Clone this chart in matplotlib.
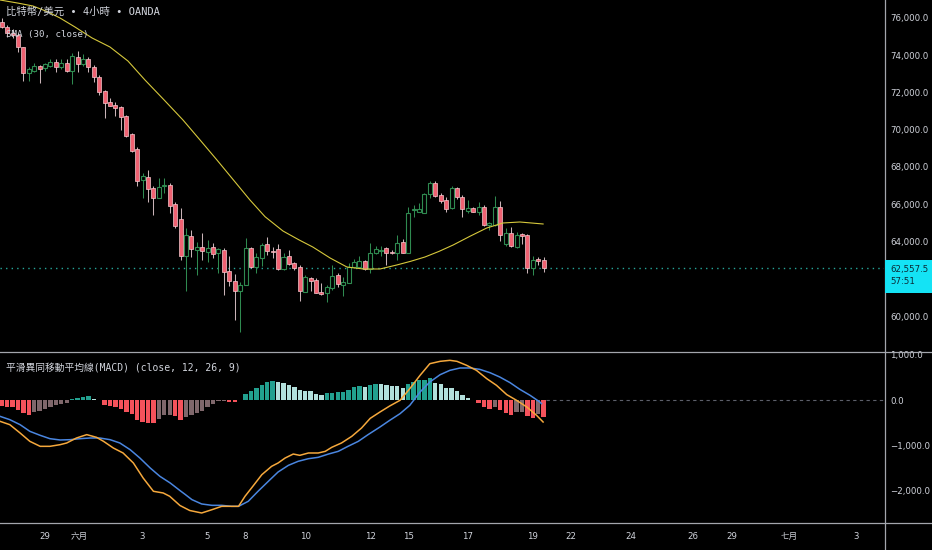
import matplotlib
matplotlib.use("Agg")
import matplotlib.pyplot as plt
from matplotlib.patches import Rectangle
from matplotlib.lines import Line2D
from matplotlib import font_manager

# ---------------- data ----------------
opens = [75800, 75530, 75180, 75090, 74430, 73030, 73170, 73420, 73300, 73420,
         73620, 73350, 73570, 73170, 73920, 73530, 73780, 73385, 72815, 72100,
         71470, 71330, 71240, 70740, 69760, 68970, 67300, 67480, 66860, 66350,
         66980, 67030, 66015, 65190, 63240, 64310, 63540, 63685, 63450, 63685,
         63370, 63540, 62430, 61895, 61360, 61665, 63630, 62615, 63100, 63865,
         63505, 63600, 62510, 63220, 62865, 62650, 61305, 62025, 61930, 61305,
         61215, 61490, 62200, 61665, 61790, 62615, 62650, 62970, 62505, 63365,
         63510, 63630, 63440, 63400, 63990, 63400, 65690, 65600, 65545, 66550,
         67160, 66500, 66230, 65780, 66860, 66405, 65655, 65780, 65600, 65870,
         64885, 64885, 65870, 63865, 64475, 63720, 64400, 64350, 62560, 63045,
         63010]
highs = [76000, 75600, 75400, 75200, 74440, 73385, 73570, 73480, 73600, 73780,
         73780, 73780, 73780, 74140, 74245, 74070, 73920, 73480, 72940, 72130,
         71690, 71505, 71275, 70790, 69810, 69090, 67695, 67840, 66980, 67395,
         67395, 67160, 66140, 65780, 64710, 64600, 63990, 64475, 64080, 63900,
         63630, 63630, 63220, 62255, 61840, 64170, 63685, 63365, 63935, 64225,
         63685, 63865, 63400, 63545, 62920, 62740, 62200, 62110, 62025, 61755,
         61665, 62740, 62325, 62110, 62830, 63045, 63220, 63010, 63900, 63760,
         63760, 63685, 63545, 64350, 64120, 65870, 65960, 66050, 66620, 67265,
         67265, 66590, 66375, 66980, 66910, 66500, 66230, 65835, 66140, 65960,
         65065, 66445, 66190, 64710, 64765, 64530, 64475, 64400, 63220, 63150,
         63150]
lows = [75460, 75000, 74900, 74190, 72630, 72630, 73115, 72500, 73170, 73350,
        73115, 73245, 73115, 72460, 73115, 73420, 73115, 72580, 71865, 70615,
        71275, 70740, 69990, 69630, 68820, 66980, 66320, 66140, 65425, 66320,
        66590, 65515, 64710, 63010, 61360, 63185, 62200, 63010, 62920, 63100,
        62290, 61130, 61610, 59785, 59160, 61665, 62560, 62325, 62685, 63275,
        63100, 62470, 62470, 62740, 62470, 60820, 61305, 61360, 61215, 61130,
        60770, 61395, 61575, 61075, 61755, 62560, 62560, 62470, 62290, 63330,
        63220, 62740, 63330, 63010, 63365, 63365, 65330, 65600, 65545, 66320,
        66405, 66085, 65600, 65730, 66265, 65330, 65545, 65600, 65425, 64830,
        64610, 64830, 64040, 63760, 63720, 63630, 63865, 62290, 62200, 62740,
        62380]
closes = [75530, 75180, 75100, 74460, 73030, 73245, 73420, 73260, 73515, 73650,
          73385, 73600, 73170, 73960, 73530, 73780, 73385, 72815, 72040, 71420,
          71290, 71150, 70670, 69665, 68880, 67265, 67530, 66800, 66350, 66940,
          67030, 65920, 64850, 63240, 64350, 63580, 63720, 63490, 63630, 63330,
          63580, 62380, 61895, 61360, 61665, 63630, 62615, 63150, 63810, 63505,
          63435, 62510, 63185, 62790, 62595, 61360, 62080, 61895, 61250, 61180,
          61570, 62150, 61715, 61840, 62650, 62920, 62970, 62505, 63365, 63580,
          63545, 63365, 63400, 63935, 63400, 65545, 65745, 65730, 66550, 67125,
          66445, 66190, 65730, 66860, 66375, 65730, 65780, 65600, 65870, 64885,
          65010, 65870, 64350, 64475, 63760, 64350, 64295, 62560, 63010, 62970,
          62557.5]

# SMA(30): bar index -> value
sma_x = [-0.31, 3.0, 5.78, 8.5, 10.76, 13.52, 16.66, 19.98, 23.3, 26.44,
         30.0, 33.45, 36.6, 39.72, 42.8, 45.81, 48.6, 51.9, 54.9, 57.4,
         60.6, 63.7, 66.7, 69.8, 72.9, 75.5, 78.1, 80.7, 83.3, 86.4,
         89.5, 92.5, 95.6, 99.9]
sma_v = [76966, 76800, 76644, 76330, 76000, 75517, 74930, 74443, 73690, 72671,
         71590, 70524, 69450, 68376, 67290, 66228, 65330, 64564, 64080, 63705,
         63114, 62631, 62524, 62524, 62739, 62940, 63168, 63470, 63812, 64280,
         64725, 64994, 65047, 64940]

# MACD histogram, one per bar
hist = [-140, -145, -150, -213, -290, -328, -265, -245, -205, -155,
        -115, -88, -62, 25, 52, 75, 78, 32, -8, -105,
        -122, -145, -200, -255, -320, -440, -478, -498, -505, -420,
        -335, -330, -345, -440, -365, -330, -285, -248, -165, -88,
        -25, -12, -35, -42, -5, 132, 206, 265, 339, 397,
        427, 390, 375, 339, 280, 221, 195, 188, 132, 103,
        160, 163, 166, 170, 228, 280, 302, 298, 340, 353,
        346, 324, 309, 300, 265, 353, 397, 434, 445, 486,
        383, 361, 270, 265, 191, 103, 44, -10, -59, -155,
        -191, -155, -228, -280, -324, -268, -262, -353, -390, -316,
        -375]

# MACD line (orange)
macd_x = [-0.3, 1.5, 3.4, 5.2, 7.1, 8.9, 10.8, 12.0, 13.8, 15.7,
          17.5, 18.8, 20.6, 22.4, 24.3, 26.1, 28.0, 29.8, 31.0, 32.9,
          34.7, 36.9, 38.8, 40.6, 42.4, 43.7, 44.9, 46.1, 48.0, 49.8,
          51.0, 52.3, 53.8, 55.0, 56.6, 58.4, 59.7, 60.9, 62.7, 64.6,
          66.4, 68.0, 69.8, 71.6, 73.5, 75.3, 77.2, 79.0, 80.9, 82.7,
          84.0, 85.8, 87.6, 89.5, 91.3, 93.2, 95.0, 96.9, 98.7, 99.9]
macd_v = [-471, -545, -729, -913, -1023, -1023, -986, -949, -839, -765,
          -824, -913, -1060, -1170, -1391, -1722, -2016, -2053, -2126, -2330,
          -2440, -2495, -2422, -2348, -2348, -2348, -2126, -1943, -1649, -1465,
          -1391, -1281, -1193, -1222, -1170, -1170, -1134, -1045, -949, -802,
          -618, -405, -265, -132, -7, 250, 545, 802, 854, 876,
          854, 765, 655, 471, 324, 118, -7, -155, -339, -486]

# Signal line (blue)
sig_x = [-0.3, 1.5, 3.4, 5.2, 7.1, 8.9, 10.8, 12.6, 14.5, 16.3,
         18.1, 20.0, 21.8, 23.7, 25.5, 27.4, 29.2, 31.1, 32.9, 33.8,
         35.1, 36.9, 38.8, 40.6, 42.4, 43.7, 45.5, 47.3, 49.2, 51.0,
         52.9, 54.7, 56.6, 58.4, 60.3, 62.1, 63.9, 65.8, 67.6, 69.8,
         71.6, 73.5, 75.3, 77.2, 79.0, 80.9, 82.7, 84.6, 86.4, 88.2,
         90.1, 91.9, 93.8, 95.6, 97.5, 99.3, 99.6]
sig_v = [-361, -434, -545, -692, -780, -854, -883, -876, -854, -839,
         -839, -876, -949, -1097, -1281, -1501, -1686, -1833, -2000, -2080,
         -2200, -2296, -2326, -2326, -2348, -2348, -2237, -2016, -1796, -1590,
         -1443, -1354, -1296, -1266, -1193, -1134, -1023, -913, -765, -596,
         -449, -302, -118, 177, 397, 559, 655, 707, 707, 677,
         603, 508, 383, 236, 103, -44, -81]

price_ticks = [60000, 64000, 66000, 68000, 70000, 72000, 74000, 76000]
macd_ticks = [1000, 0, -1000, -2000]
time_tick_pos = [8, 14.3, 26, 38, 45, 56, 68, 75, 86, 98,
                 105, 116, 127.5, 134.7, 145.3, 157.6]
time_tick_labels = ["29", "六月", "3", "5", "8", "10", "12", "15", "17", "19",
                    "22", "24", "26", "29", "七月", "3"]
title_text = "比特幣/美元 • 4小時 • OANDA"
sma_text = "SMA (30, close)"
macd_text = "平滑異同移動平均線(MACD) (close, 12, 26, 9)"
countdown = "57:51"

# ---------------- fonts ----------------
installed = {f.name for f in font_manager.fontManager.ttflist}
narrow = "Liberation Sans Narrow" if "Liberation Sans Narrow" in installed else "DejaVu Sans"
axis_fam = [narrow, "Noto Sans CJK TC", "DejaVu Sans"]
title_fam = ["DejaVu Sans Mono", "Noto Sans CJK TC", "DejaVu Sans"]
axis_size = 7.4 if narrow != "DejaVu Sans" else 6.2

TXT = "#d1d4dc"
W, H = 932, 550
fig = plt.figure(figsize=(W / 100, H / 100), dpi=100, facecolor="black")


def fx(px):
    return px / W


def fy(py):
    return 1 - py / H


ax = fig.add_axes([0, fy(351), fx(884), 351 / H])
axm = fig.add_axes([0, fy(522), fx(884), (522 - 352) / H])
for a in (ax, axm):
    a.set_facecolor("black")
    for s in a.spines.values():
        s.set_visible(False)

n = len(closes)
xmin, xmax = -0.31, 162.8

# ---------------- candles ----------------
bull_edge = "#2f8a50"
bear_face = "#ef6272"
bear_edge = "#f8c8ce"
bear_wick = "#c9b3b7"
bw = 0.74
for i in range(n):
    o, h, l, c = opens[i], highs[i], lows[i], closes[i]
    up = c >= o
    ax.vlines(i, l, h, color=bull_edge if up else bear_wick, lw=0.75, zorder=2)
    lo = min(o, c)
    hgt = max(abs(c - o), 45)
    if up:
        ax.add_patch(Rectangle((i - bw / 2, lo), bw, hgt, facecolor="black",
                               edgecolor=bull_edge, lw=0.8, zorder=3))
    else:
        ax.add_patch(Rectangle((i - bw / 2, lo), bw, hgt, facecolor=bear_face,
                               edgecolor=bear_edge, lw=0.5, zorder=3))

ax.plot(sma_x, sma_v, color="#d6c83c", lw=0.8, zorder=4)
ax.axhline(closes[-1], color="#26a69a", lw=1.0, ls=(0, (1, 3)), zorder=1)
ax.set_xlim(xmin, xmax)
ax.set_ylim(58121, 76966)
ax.set_xticks([])
ax.yaxis.tick_right()
ax.set_yticks(price_ticks)
ax.set_yticklabels([f"{v:,.1f}" for v in price_ticks])
ax.tick_params(axis="y", length=0, pad=4.3, labelsize=axis_size, labelcolor=TXT)
for t in ax.get_yticklabels():
    t.set_family(axis_fam)

# ---------------- MACD ----------------
cols = []
for i, v in enumerate(hist):
    prev = hist[i - 1] if i > 0 else v
    if v >= 0:
        cols.append("#22a08f" if v > prev else "#b2dfdb")
    else:
        cols.append("#7f676b" if v > prev else "#f5525b")
axm.bar(range(n), hist, width=0.8, color=cols, linewidth=0, zorder=2)
axm.hlines(0, n - 0.5, xmax, colors="#5d606b", lw=0.8, linestyles=(0, (3, 3)), zorder=1)
axm.plot(sig_x, sig_v, color="#4a86e0", lw=1.1, zorder=3)
axm.plot(macd_x, macd_v, color="#f5a83c", lw=1.1, zorder=4)
axm.set_xlim(xmin, xmax)
axm.set_ylim(-2694, 1060)
axm.yaxis.tick_right()
axm.set_yticks(macd_ticks)
axm.set_yticklabels([f"{v:,.1f}".replace("-", "\u2212") for v in macd_ticks])
axm.tick_params(axis="y", length=0, pad=4.3, labelsize=axis_size, labelcolor=TXT)
axm.set_xticks(time_tick_pos)
axm.set_xticklabels(time_tick_labels)
axm.tick_params(axis="x", length=0, pad=7.0, labelsize=axis_size, labelcolor=TXT)
for t in axm.get_yticklabels() + axm.get_xticklabels():
    t.set_family(axis_fam)

# ---------------- frame lines ----------------
lc = "#a3a6ad"
fig.add_artist(Line2D([0, 1], [fy(351.5)] * 2, color=lc, lw=0.9))
fig.add_artist(Line2D([0, 1], [fy(522.5)] * 2, color=lc, lw=0.9))
fig.add_artist(Line2D([fx(884.5)] * 2, [0, 1], color=lc, lw=0.9))

# ---------------- texts ----------------
fig.text(fx(6), fy(12), title_text, family=title_fam, size=7.5, color=TXT,
         va="center", ha="left")
fig.text(fx(6), fy(35), sma_text, family=title_fam, size=6.6, color=TXT,
         va="center", ha="left")
fig.text(fx(6), fy(368), macd_text, family=title_fam, size=7.0, color=TXT,
         va="center", ha="left")

# ---------------- last price label ----------------
fig.canvas.draw()
_, ypix = ax.transData.transform((0, closes[-1]))
ytop = H - ypix  # pixel from top
fig.add_artist(Rectangle((fx(884.5), fy(ytop + 24.5)), fx(932) - fx(884.5), 33 / H,
                         transform=fig.transFigure, facecolor="#14e3f5",
                         edgecolor="none", zorder=5))
fig.text(fx(890), fy(ytop + 1), f"{closes[-1]:,.1f}", family=axis_fam,
         size=axis_size, color="#0b2a36", va="center", ha="left", zorder=6)
fig.text(fx(890), fy(ytop + 13.5), countdown, family=axis_fam,
         size=axis_size, color="#0b2a36", va="center", ha="left", zorder=6)

fig.savefig("out.png", dpi=100, facecolor="black")
